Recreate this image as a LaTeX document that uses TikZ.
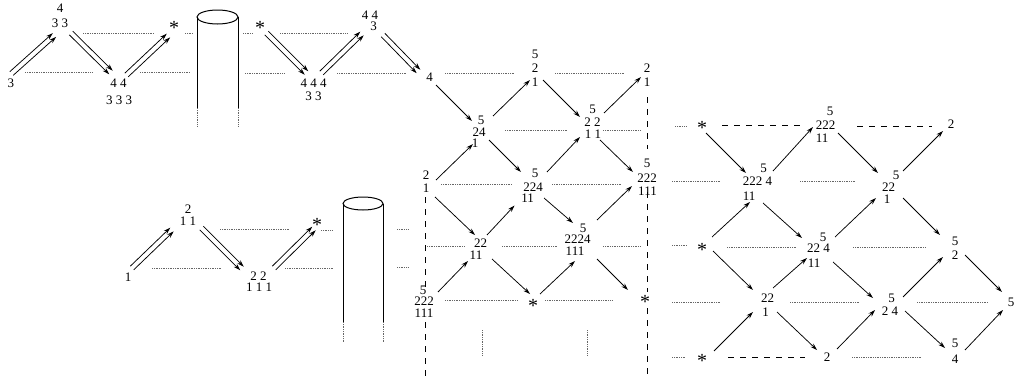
\documentclass[tikz,border=0pt]{standalone}
\usepackage{fontspec}
\setmainfont{Liberation Serif}
\usetikzlibrary{arrows.meta,calc}
\newcommand{\dblarrow}[2]{%
  \draw[arr] ($(#1)!2.5pt!90:(#2)$) -- ($(#2)!2.5pt!-90:(#1)$);
  \draw[arr] ($(#1)!2.5pt!-90:(#2)$) -- ($(#2)!2.5pt!90:(#1)$);}
\begin{document}
\begin{tikzpicture}[x=1pt,y=-1pt,
  txt/.style={anchor=base,inner sep=0pt,font=\fontsize{13}{13}\selectfont},
  asty/.style={anchor=base,inner sep=0pt,font=\fontsize{20}{20}\selectfont},
  arr/.style={line width=0.75pt,-{Stealth[length=7pt,width=4.4pt]}},
  dots/.style={line width=0.75pt,black!60,dash pattern=on 0.75pt off 1pt},
  dsh/.style={line width=0.9pt,dash pattern=on 6pt off 6pt},
  cyl/.style={line width=1pt}]
\useasboundingbox (0,0) rectangle (1016,383);

% ---------- texts ----------
\node[txt] (t1) at (11,87) {3};
\node[txt] (t2a) at (60,12) {4};
\node[txt] (t2b) at (60,27) {3 3};
\node[txt] (t3a) at (118.5,87) {4 4};
\node[txt] (t3b) at (119,104) {3 3 3};
\node[asty] (t4) at (174,34.8) {*};
\node[asty] (t5) at (260,34.8) {*};
\node[txt] (t6a) at (313.5,87) {4 4 4};
\node[txt] (t6b) at (313.5,100) {3 3};
\node[txt] (t7a) at (370,19) {4 4};
\node[txt] (t7b) at (373.5,30) {3};
\node[txt] (t8) at (429.5,81) {4};
\node[txt] (t9a) at (535,58) {5};
\node[txt] (t9b) at (535,72) {2};
\node[txt] (t9c) at (535,86) {1};
\node[txt] (t10a) at (481,124) {5};
\node[txt] (t10b) at (479,136) {24};
\node[txt] (t10c) at (475,147) {1};
\node[txt] (t11a) at (647,72) {2};
\node[txt] (t11b) at (647,86) {1};
\node[txt] (t12a) at (592.5,113) {5};
\node[txt] (t12b) at (592.5,126) {2 2};
\node[txt] (t12c) at (593,138) {1 1};
\node[txt] (t13a) at (426,179) {2};
\node[txt] (t13b) at (426,192) {1};
\node[txt] (t14a) at (535,177) {5};
\node[txt] (t14b) at (533,191) {224};
\node[txt] (t14c) at (527.5,202) {11};
\node[txt] (t15a) at (647,167) {5};
\node[txt] (t15b) at (647,182) {222};
\node[txt] (t15c) at (647.5,195) {111};
\node[txt] (t16a) at (480.5,247) {22};
\node[txt] (t16b) at (476,259) {11};
\node[asty] (t17) at (533,312.8) {*};
\node[txt] (t18a) at (583,232) {5};
\node[txt] (t18b) at (577.5,243) {2224};
\node[txt] (t18c) at (575,255) {111};
\node[asty] (t19) at (645,308.3) {*};
\node[txt] (t20a) at (423,294) {5};
\node[txt] (t20b) at (424,305) {222};
\node[txt] (t20c) at (424,317) {111};
\node[txt] (t21) at (128,281) {1};
\node[txt] (t22a) at (188,213) {2};
\node[txt] (t22b) at (188,225) {1 1};
\node[txt] (t23a) at (258.5,280) {2 2};
\node[txt] (t23b) at (259,291) {1 1 1};
\node[asty] (t24) at (317,231.3) {*};
\node[asty] (t25) at (702,134.8) {*};
\node[txt] (t26a) at (830,115) {5};
\node[txt] (t26b) at (825.5,129) {222};
\node[txt] (t26c) at (822,142) {11};
\node[txt] (t27) at (951,128) {2};
\node[txt] (t28a) at (763.5,172) {5};
\node[txt] (t28b) at (757.5,185) {222 4};
\node[txt] (t28c) at (749,200) {11};
\node[txt] (t29a) at (896,179) {5};
\node[txt] (t29b) at (888.5,191) {22};
\node[txt] (t29c) at (887,203) {1};
\node[asty] (t30) at (702,256.3) {*};
\node[txt] (t31a) at (823,241) {5};
\node[txt] (t31b) at (818.5,252) {22 4};
\node[txt] (t31c) at (814,267) {11};
\node[txt] (t32a) at (955,245) {5};
\node[txt] (t32b) at (955,259) {2};
\node[txt] (t33a) at (767.5,302) {22};
\node[txt] (t33b) at (765.5,316) {1};
\node[txt] (t34a) at (891.5,302) {5};
\node[txt] (t34b) at (890,315) {2 4};
\node[txt] (t35) at (1011,306) {5};
\node[asty] (t36) at (702,367.3) {*};
\node[txt] (t37) at (827,361) {2};
\node[txt] (t38a) at (955,347) {5};
\node[txt] (t38b) at (955,363) {4};

% ---------- attachment points ----------
\coordinate (c1ne) at (11.5,73.5);
\coordinate (c2sw) at (54.5,35);  \coordinate (c2se) at (71,33);
\coordinate (c3nw) at (111,72.5); \coordinate (c3ne) at (126.5,75);
\coordinate (c4sw) at (168.5,35.5);
\coordinate (c5se) at (266.5,33);
\coordinate (c6nw) at (306.5,73); \coordinate (c6ne) at (321.5,73);
\coordinate (c7sw) at (362,33.5); \coordinate (c7se) at (383,35);
\coordinate (c8nw) at (418.5,71.5); \coordinate (c8se) at (436,85);
\coordinate (c9sw) at (530,80); \coordinate (c9se) at (543,80);
\coordinate (c10nw) at (472,121); \coordinate (c10ne) at (493,116);
\coordinate (c10sw) at (473,144); \coordinate (c10se) at (489,140);
\coordinate (c11sw) at (641,77);
\coordinate (c12nw) at (580,117); \coordinate (c12ne) at (604,113);
\coordinate (c12sw) at (580,137); \coordinate (c12se) at (600,140);
\coordinate (c13ne) at (436,180); \coordinate (c13se) at (435,197);
\coordinate (c14nw) at (521,172); \coordinate (c14ne) at (547,172);
\coordinate (c14sw) at (514.5,205.5); \coordinate (c14se) at (544,198);
\coordinate (c15nw) at (633,172); \coordinate (c15sw) at (632,186);
\coordinate (c16nw) at (475,235); \coordinate (c16ne) at (487,235);
\coordinate (c16sw) at (468,261); \coordinate (c16se) at (492,259);
\coordinate (c17nw) at (530,294); \coordinate (c17ne) at (540,294);
\coordinate (c18nw) at (573,223); \coordinate (c18ne) at (597,220);
\coordinate (c18sw) at (575,261); \coordinate (c18se) at (597,259);
\coordinate (c19nw) at (628,290);
\coordinate (c20ne) at (438,292);
\coordinate (c21ne) at (132,268);
\coordinate (c22sw) at (172,229.5); \coordinate (c22se) at (201.5,228);
\coordinate (c23nw) at (242,268.5); \coordinate (c23ne) at (274,268);
\coordinate (c24sw) at (314,228.5);
\coordinate (c25se) at (706,133);
\coordinate (c26sw) at (813,127); \coordinate (c26se) at (838,133);
\coordinate (c27sw) at (943,131);
\coordinate (c28nw) at (746,173); \coordinate (c28ne) at (773,171);
\coordinate (c28sw) at (750,202); \coordinate (c28se) at (763,203);
\coordinate (c29nw) at (878,173); \coordinate (c29ne) at (903,171);
\coordinate (c29sw) at (876,198); \coordinate (c29se) at (903,198);
\coordinate (c30ne) at (712,237); \coordinate (c30se) at (713,251);
\coordinate (c31nw) at (802,238); \coordinate (c31ne) at (835,237);
\coordinate (c31sw) at (807,258); \coordinate (c31se) at (833,262);
\coordinate (c32nw) at (940,235); \coordinate (c32sw) at (943,257);
\coordinate (c32se) at (965,255);
\coordinate (c33nw) at (753,290); \coordinate (c33ne) at (773,288);
\coordinate (c33sw) at (753,312); \coordinate (c33se) at (777,312);
\coordinate (c34nw) at (873,298); \coordinate (c34ne) at (903,297);
\coordinate (c34sw) at (875,310); \coordinate (c34se) at (905,311);
\coordinate (c35nw) at (1002,292); \coordinate (c35sw) at (1003,310);
\coordinate (c36ne) at (714,351);
\coordinate (c37nw) at (817,350); \coordinate (c37ne) at (837,349);
\coordinate (c38nw) at (945,348); \coordinate (c38ne) at (965,350);

% ---------- cylinders ----------
\draw[cyl] (197,17) -- (197,108) (238,17) -- (238,108);
\draw[cyl] (217.5,17) ellipse [x radius=20.5pt, y radius=7pt];
\draw[dots] (197,108) -- (197,127) (238,108) -- (238,127);
\draw[cyl] (343,203.5) -- (343,322) (383,203.5) -- (383,322);
\draw[cyl] (363,203.5) ellipse [x radius=20pt, y radius=6.5pt];
\draw[dots] (343,322) -- (343,342) (383,322) -- (383,342);

% ---------- dotted guide lines ----------
\draw[dots] (83,33) -- (154,33);
\draw[dots] (185,33) -- (193,33);
\draw[dots] (243,33) -- (252,33);
\draw[dots] (280,33) -- (348,33);
\draw[dots] (25,72) -- (93,72);
\draw[dots] (140,72) -- (190,72);
\draw[dots] (245,73) -- (285,73);
\draw[dots] (337,73) -- (407,73);
\draw[dots] (445,73) -- (515,73);
\draw[dots] (555,73) -- (625,73);
\draw[dots] (505,130) -- (568,130);
\draw[dots] (603,130) -- (640,130);
\draw[dots] (441,184) -- (512,184);
\draw[dots] (552,184) -- (622,184);
\draw[dots] (672,181) -- (720,181);
\draw[dots] (800,181) -- (855,181);
\draw[dots] (427,246) -- (465,246);
\draw[dots] (502,246) -- (558,246);
\draw[dots] (603,246) -- (641,246);
\draw[dots] (672,245) -- (687,245);
\draw[dots] (727,247) -- (797,247);
\draw[dots] (853,247) -- (925,247);
\draw[dots] (445,300) -- (517,300);
\draw[dots] (545,300) -- (612,300);
\draw[dots] (672,302) -- (720,302);
\draw[dots] (790,302) -- (860,302);
\draw[dots] (917,302) -- (988,302);
\draw[dots] (672,357) -- (685,357);
\draw[dots] (852,357) -- (922,357);
\draw[dots] (675,126) -- (687,126);
\draw[dots] (220,229) -- (290,229);
\draw[dots] (321,230) -- (333,230);
\draw[dots] (152,268) -- (222,268);
\draw[dots] (285,268) -- (333,268);
\draw[dots] (397,229) -- (408,229);
\draw[dots] (397,267) -- (408,267);
\draw[dots] (482,330) -- (482,355);
\draw[dots] (587,330) -- (587,355);

% ---------- dashed lines ----------
\draw[dsh] (722,125) -- (800,125);
\draw[dsh] (857,126) -- (932,126);
\draw[dsh] (728,357) -- (805,357);
\draw[dsh] (425.5,197) -- (425.5,288);
\draw[dsh] (425.5,322) -- (425.5,381);
\draw[dsh] (647,97) -- (647,149);
\draw[dsh] (647,192) -- (647,292);
\draw[dsh] (647,308) -- (647,374);

% ---------- double arrows ----------
\dblarrow{c1ne}{c2sw}
\dblarrow{c2se}{c3nw}
\dblarrow{c3ne}{c4sw}
\dblarrow{c5se}{c6nw}
\dblarrow{c6ne}{c7sw}
\dblarrow{c7se}{c8nw}
\dblarrow{c21ne}{c22sw}
\dblarrow{c22se}{c23nw}
\dblarrow{c23ne}{c24sw}

% ---------- single arrows ----------
\draw[arr] (c8se) -- (c10nw);
\draw[arr] (c10ne) -- (c9sw);
\draw[arr] (c9se) -- (c12nw);
\draw[arr] (c12ne) -- (c11sw);
\draw[arr] (c13ne) -- (c10sw);
\draw[arr] (c10se) -- (c14nw);
\draw[arr] (c14ne) -- (c12sw);
\draw[arr] (c12se) -- (c15nw);
\draw[arr] (c13se) -- (c16nw);
\draw[arr] (c16ne) -- (c14sw);
\draw[arr] (c20ne) -- (c16sw);
\draw[arr] (c16se) -- (c17nw);
\draw[arr] (c17ne) -- (c18sw);
\draw[arr] (c14se) -- (c18nw);
\draw[arr] (c18ne) -- (c15sw);
\draw[arr] (c18se) -- (c19nw);
\draw[arr] (c25se) -- (c28nw);
\draw[arr] (c28ne) -- (c26sw);
\draw[arr] (c30ne) -- (c28sw);
\draw[arr] (c28se) -- (c31nw);
\draw[arr] (c26se) -- (c29nw);
\draw[arr] (c29ne) -- (c27sw);
\draw[arr] (c29se) -- (c32nw);
\draw[arr] (c31ne) -- (c29sw);
\draw[arr] (c30se) -- (c33nw);
\draw[arr] (c33ne) -- (c31sw);
\draw[arr] (c31se) -- (c34nw);
\draw[arr] (c34ne) -- (c32sw);
\draw[arr] (c32se) -- (c35nw);
\draw[arr] (c34se) -- (c38nw);
\draw[arr] (c38ne) -- (c35sw);
\draw[arr] (c36ne) -- (c33sw);
\draw[arr] (c33se) -- (c37nw);
\draw[arr] (c37ne) -- (c34sw);
\end{tikzpicture}
\end{document}
